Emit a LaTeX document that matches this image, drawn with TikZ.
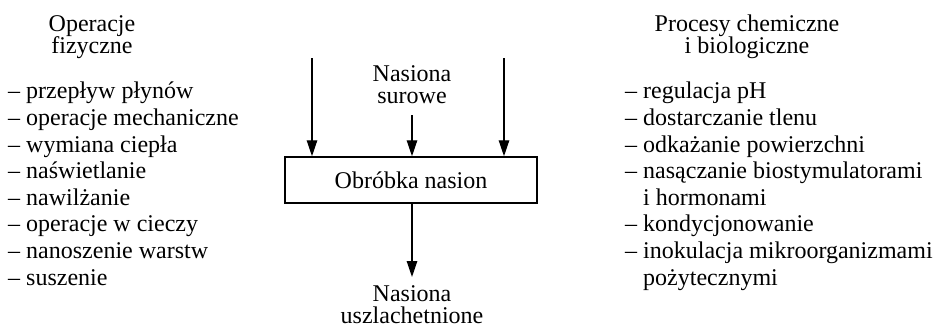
\documentclass[tikz,border=0pt]{standalone}
\usepackage{fontspec}
\setmainfont{Liberation Serif}
\usetikzlibrary{arrows.meta}
\setlength{\lineskiplimit}{-20pt}
\begin{document}
\begin{tikzpicture}[x=1pt,y=-1pt,
  lst/.style={font=\fontsize{24}{26.6}\selectfont, inner sep=0pt, align=left},
  hdr/.style={font=\fontsize{24}{21.5}\selectfont, inner sep=0pt, align=center},
  arr/.style={line width=1.3pt, -{Triangle[length=16pt,width=10.5pt]}},
  boxst/.style={draw, line width=1.5pt, minimum width=252pt, minimum height=46pt, inner sep=0pt, font=\fontsize{24}{26}\selectfont}]
\useasboundingbox (0,0) rectangle (935,327);
% headers (base anchor = baseline of the last line)
\node[hdr, anchor=base] (h1) at (92,53) {Operacje\\fizyczne};
\node[hdr, anchor=base] (h2) at (747,53) {Procesy chemiczne\\i biologiczne};
% lists
\node[lst, anchor=base west] (l1) at (8,285) {– przepływ płynów\\– operacje mechaniczne\\– wymiana ciepła\\– naświetlanie\\– nawilżanie\\– operacje w cieczy\\– nanoszenie warstw\\– suszenie};
\node[lst, anchor=base west] (l2) at (625,285) {– regulacja pH\\– dostarczanie tlenu\\– odkażanie powierzchni\\– nasączanie biostymulatorami\\\hphantom{– }i hormonami\\– kondycjonowanie\\– inokulacja mikroorganizmami\\\hphantom{– }pożytecznymi};
% centre
\node[boxst] (box) at (411,180) {Obróbka nasion};
\node[hdr, anchor=base] (in) at (412,103) {Nasiona\\surowe};
\node[hdr, anchor=base] (out) at (412,323) {Nasiona\\uszlachetnione};
\coordinate (a1) at (312,58);
\coordinate (a2) at (504,58);
\coordinate (a3) at (412,115);
\coordinate (a4) at (412,277);
\draw[arr] (a1) -- (a1 |- box.north);
\draw[arr] (a2) -- (a2 |- box.north);
\draw[arr] (a3) -- (a3 |- box.north);
\draw[arr] (a4 |- box.south) -- (a4);
\end{tikzpicture}
\end{document}
